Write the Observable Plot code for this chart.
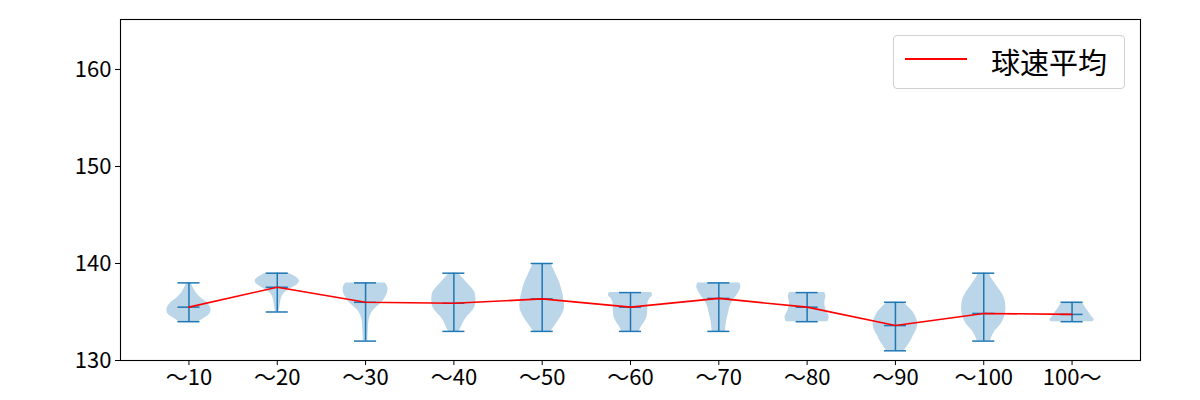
<!DOCTYPE html>
<html>
<head>
<meta charset="utf-8">
<script src="https://cdn.jsdelivr.net/npm/d3@7"></script>
<script src="https://cdn.jsdelivr.net/npm/@observablehq/plot@0.6"></script>
<style>
  html, body { margin: 0; padding: 0; background: #fff; }
  #wrap { position: relative; width: 1200px; height: 400px; font-family: "Noto Sans CJK JP", sans-serif; }
  #legend { position: absolute; left: 893px; top: 35px; width: 232px; height: 54px; border: 1px solid #d0d0d0; border-radius: 4px; background: rgba(255,255,255,0.8); box-sizing: border-box; }
  #legend .swatch { position: absolute; left: 11px; top: 22px; width: 62px; height: 1.6px; background: red; }
  #legend .label { position: absolute; left: 97px; top: 5px; font-size: 29px; line-height: 40px; color: #000; }
</style>
</head>
<body>
<div id="wrap"></div>
<script>
// Categories (x tick labels)
const labels = ["〜10", "〜20", "〜30", "〜40", "〜50", "〜60", "〜70", "〜80", "〜90", "〜100", "100〜"];
// Per-category statistics
const mins  = [134, 135, 132, 133, 133, 133, 133, 134, 131, 132, 134];
const maxs  = [138, 139, 138, 139, 140, 137, 138, 137, 136, 139, 136];
const means = [135.5, 137.55, 136.0, 135.9, 136.35, 135.5, 136.4, 135.5, 133.6, 134.85, 134.75];
// Violin density profiles: [value, relative density]
const density = [
  [[138.0,0.10],[137.5,0.20],[137.0,0.32],[136.5,0.52],[136.0,0.80],[135.5,0.97],[135.2,1.0],[134.8,0.95],[134.4,0.72],[134.0,0.45]],
  [[139.0,0.50],[138.6,0.85],[138.2,1.0],[137.8,0.90],[137.4,0.60],[137.0,0.35],[136.5,0.20],[136.0,0.15],[135.5,0.12],[135.0,0.08]],
  [[138.0,0.90],[137.6,1.0],[137.0,1.0],[136.5,0.90],[136.0,0.75],[135.5,0.50],[135.0,0.30],[134.5,0.20],[134.0,0.15],[133.0,0.12],[132.0,0.10]],
  [[139.0,0.20],[138.5,0.40],[138.0,0.60],[137.5,0.80],[137.0,0.95],[136.3,1.0],[135.5,0.95],[135.0,0.80],[134.5,0.60],[134.0,0.45],[133.5,0.35],[133.0,0.25]],
  [[140.0,0.40],[139.5,0.50],[139.0,0.60],[138.5,0.70],[138.0,0.80],[137.0,0.92],[136.0,1.0],[135.3,1.0],[134.5,0.85],[134.0,0.70],[133.5,0.55],[133.0,0.40]],
  [[137.0,0.95],[136.7,1.0],[136.3,0.85],[135.8,0.78],[135.2,0.78],[134.5,0.75],[134.0,0.65],[133.5,0.50],[133.0,0.40]],
  [[138.0,0.95],[137.6,1.0],[137.0,0.90],[136.5,0.75],[136.0,0.60],[135.5,0.50],[135.0,0.45],[134.0,0.35],[133.0,0.30]],
  [[137.0,0.80],[136.6,0.85],[136.0,0.80],[135.5,0.82],[135.0,0.90],[134.5,1.0],[134.0,0.95]],
  [[136.0,0.35],[135.5,0.60],[135.0,0.80],[134.5,0.92],[134.0,1.0],[133.5,1.0],[133.0,0.92],[132.5,0.80],[132.0,0.70],[131.5,0.55],[131.0,0.40]],
  [[139.0,0.25],[138.5,0.35],[138.0,0.50],[137.5,0.65],[137.0,0.80],[136.5,0.92],[136.0,0.98],[135.2,1.0],[134.5,0.95],[134.0,0.85],[133.5,0.70],[133.0,0.50],[132.5,0.38],[132.0,0.30]],
  [[136.0,0.45],[135.5,0.60],[135.0,0.75],[134.5,0.90],[134.2,1.0],[134.0,0.95]]
];
const yTicks = [130, 140, 150, 160];

const halfWidth = 0.25;   // violin body half-width in category units
const capHalf = 0.125;    // cap line half-length
const stats = labels.map((l, i) => ({pos: i + 1, label: l, min: mins[i], max: maxs[i], mean: means[i]}));
const bodyRows = density.flatMap((prof, i) => prof.map(([v, w]) => ({pos: i + 1, v, w})));
const caps = stats.flatMap(s => [
  {pos: s.pos, y: s.min}, {pos: s.pos, y: s.max}, {pos: s.pos, y: s.mean}
]);
const blue = "#1f77b4";

const chart = Plot.plot({
  width: 1200,
  height: 400,
  marginLeft: 120,
  marginRight: 60,
  marginTop: 19,
  marginBottom: 40,
  style: {fontFamily: "'Noto Sans CJK JP', sans-serif", fontSize: "22px", color: "#000", background: "#fff"},
  x: {type: "linear", domain: [0.225, 11.775]},
  y: {domain: [130, 165.15]},
  marks: [
    Plot.areaX(bodyRows, {
      y: "v",
      x1: d => d.pos - d.w * halfWidth,
      x2: d => d.pos + d.w * halfWidth,
      z: "pos",
      fill: blue,
      fillOpacity: 0.3,
      curve: "catmull-rom"
    }),
    Plot.ruleX(stats, {x: "pos", y1: "min", y2: "max", stroke: blue, strokeWidth: 1.5}),
    Plot.ruleY(caps, {y: "y", x1: d => d.pos - capHalf, x2: d => d.pos + capHalf, stroke: blue, strokeWidth: 1.5}),
    Plot.line(stats, {x: "pos", y: "mean", stroke: "red", strokeWidth: 1.6}),
    Plot.frame({stroke: "#000", strokeWidth: 1.1}),
    Plot.axisY({ticks: yTicks, tickSize: 5, tickPadding: 4, label: null, fill: "#000"}),
    Plot.axisX({ticks: stats.map(s => s.pos), tickFormat: (d) => labels[d - 1], tickSize: 5, tickPadding: 4, label: null, fill: "#000"})
  ]
});

const wrap = document.getElementById("wrap");
wrap.appendChild(chart);
const legend = document.createElement("div");
legend.id = "legend";
legend.innerHTML = '<div class="swatch"></div><div class="label">球速平均</div>';
wrap.appendChild(legend);
</script>
</body>
</html>
